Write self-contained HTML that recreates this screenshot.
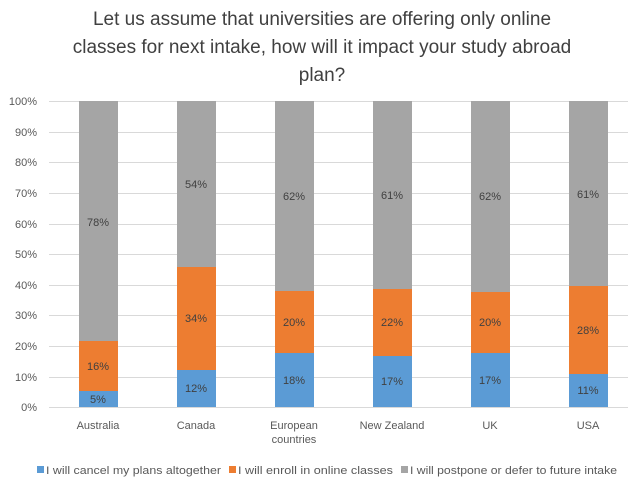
<!DOCTYPE html>
<html><head><style>
body{margin:0;background:#fff;}
svg text{font-family:"Liberation Sans",sans-serif;}
</style></head><body>
<svg width="644" height="489" xmlns="http://www.w3.org/2000/svg">
<rect width="644" height="489" fill="#fff"/>
<g font-size="19" fill="#404040" text-anchor="middle">
<text x="322" y="25">Let us assume that universities are offering only online</text>
<text x="322" y="53">classes for next intake, how will it impact your study abroad</text>
<text x="322" y="81">plan?</text>
</g>
<g stroke="#d9d9d9" stroke-width="1">
<line x1="49" x2="628" y1="101.5" y2="101.5"/><line x1="49" x2="628" y1="132.5" y2="132.5"/>
<line x1="49" x2="628" y1="162.5" y2="162.5"/><line x1="49" x2="628" y1="193.5" y2="193.5"/>
<line x1="49" x2="628" y1="224.5" y2="224.5"/><line x1="49" x2="628" y1="254.5" y2="254.5"/>
<line x1="49" x2="628" y1="285.5" y2="285.5"/><line x1="49" x2="628" y1="315.5" y2="315.5"/>
<line x1="49" x2="628" y1="346.5" y2="346.5"/><line x1="49" x2="628" y1="377.5" y2="377.5"/>
<line x1="49" x2="628" y1="407.5" y2="407.5"/>
</g>
<g font-size="11" fill="#595959" text-anchor="end">
<text x="37" y="105">100%</text><text x="37" y="136">90%</text><text x="37" y="166">80%</text>
<text x="37" y="197">70%</text><text x="37" y="228">60%</text><text x="37" y="258">50%</text>
<text x="37" y="289">40%</text><text x="37" y="319">30%</text><text x="37" y="350">20%</text>
<text x="37" y="381">10%</text><text x="37" y="411">0%</text>
</g>
<g>
<rect x="79" y="101" width="39" height="240" fill="#a5a5a5"/><rect x="79" y="341" width="39" height="50" fill="#ed7d31"/><rect x="79" y="391" width="39" height="16" fill="#5b9bd5"/>
<rect x="177" y="101" width="39" height="166" fill="#a5a5a5"/><rect x="177" y="267" width="39" height="103" fill="#ed7d31"/><rect x="177" y="370" width="39" height="37" fill="#5b9bd5"/>
<rect x="275" y="101" width="39" height="190" fill="#a5a5a5"/><rect x="275" y="291" width="39" height="62" fill="#ed7d31"/><rect x="275" y="353" width="39" height="54" fill="#5b9bd5"/>
<rect x="373" y="101" width="39" height="188" fill="#a5a5a5"/><rect x="373" y="289" width="39" height="67" fill="#ed7d31"/><rect x="373" y="356" width="39" height="51" fill="#5b9bd5"/>
<rect x="471" y="101" width="39" height="191" fill="#a5a5a5"/><rect x="471" y="292" width="39" height="61" fill="#ed7d31"/><rect x="471" y="353" width="39" height="54" fill="#5b9bd5"/>
<rect x="569" y="101" width="39" height="185" fill="#a5a5a5"/><rect x="569" y="286" width="39" height="88" fill="#ed7d31"/><rect x="569" y="374" width="39" height="33" fill="#5b9bd5"/>
</g>
<g font-size="11" fill="#404040" text-anchor="middle">
<text x="98" y="226">78%</text><text x="98" y="370">16%</text><text x="98" y="403">5%</text>
<text x="196" y="188">54%</text><text x="196" y="322">34%</text><text x="196" y="392">12%</text>
<text x="294" y="200">62%</text><text x="294" y="326">20%</text><text x="294" y="384">18%</text>
<text x="392" y="199">61%</text><text x="392" y="326">22%</text><text x="392" y="385">17%</text>
<text x="490" y="200">62%</text><text x="490" y="326">20%</text><text x="490" y="384">17%</text>
<text x="588" y="198">61%</text><text x="588" y="334">28%</text><text x="588" y="394">11%</text>
</g>
<g font-size="11" fill="#595959" text-anchor="middle">
<text x="98" y="429">Australia</text><text x="196" y="429">Canada</text>
<text x="294" y="429">European</text><text x="294" y="443">countries</text>
<text x="392" y="429">New Zealand</text><text x="490" y="429">UK</text><text x="588" y="429">USA</text>
</g>
<g font-size="11" fill="#595959">
<rect x="37" y="466" width="7" height="7" fill="#5b9bd5"/><text x="46" y="474" textLength="175" lengthAdjust="spacingAndGlyphs">I will cancel my plans altogether</text>
<rect x="229" y="466" width="7" height="7" fill="#ed7d31"/><text x="238" y="474" textLength="155" lengthAdjust="spacingAndGlyphs">I will enroll in online classes</text>
<rect x="401" y="466" width="7" height="7" fill="#a5a5a5"/><text x="410" y="474" textLength="207" lengthAdjust="spacingAndGlyphs">I will postpone or defer to future intake</text>
</g>
</svg>
</body></html>
